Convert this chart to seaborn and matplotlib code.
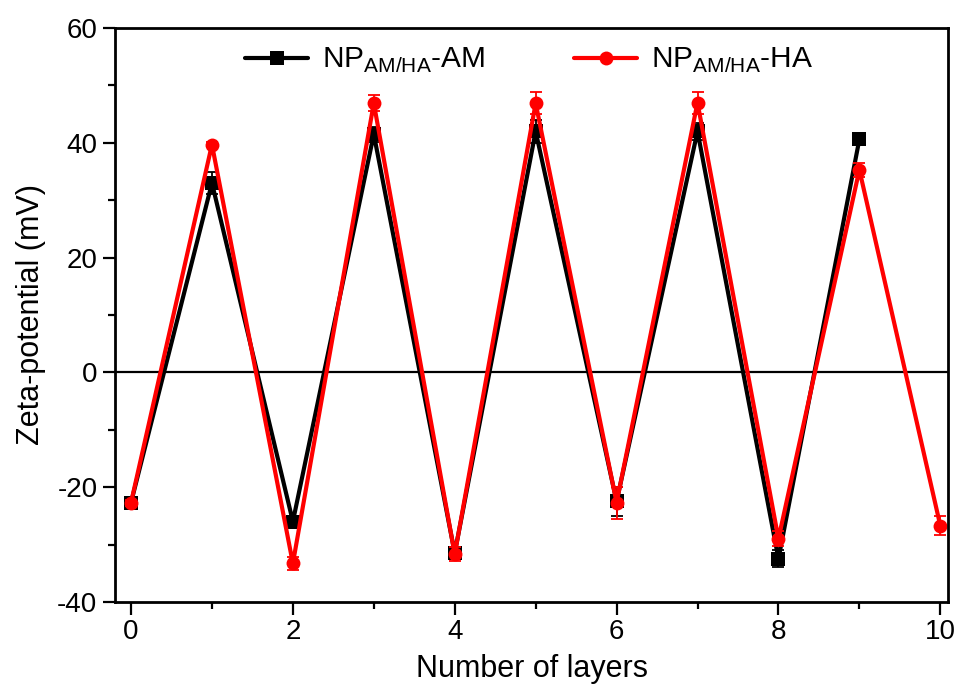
import matplotlib
matplotlib.use("Agg")
import matplotlib.pyplot as plt
from matplotlib.ticker import MultipleLocator
import pandas as pd
import seaborn as sns

sns.set_style("ticks")
plt.rcParams['font.family'] = ['Liberation Sans', 'DejaVu Sans']
plt.rcParams['axes.unicode_minus'] = False
plt.rcParams['text.color'] = 'black'
plt.rcParams['axes.labelcolor'] = 'black'
plt.rcParams['xtick.color'] = 'black'
plt.rcParams['ytick.color'] = 'black'
plt.rcParams['axes.edgecolor'] = 'black'

# data
layers_am = [0, 1, 2, 3, 4, 5, 6, 7, 8, 9]
zeta_am = [-22.7, 33.0, -26.0, 41.5, -31.5, 42.0, -22.5, 42.0, -32.5, 40.6]
err_am = [0.7, 2.0, 0.8, 1.3, 1.0, 2.0, 2.5, 1.5, 1.5, 0.5]

layers_ha = [0, 1, 2, 3, 4, 5, 6, 7, 8, 9, 10]
zeta_ha = [-22.7, 39.7, -33.3, 46.9, -31.7, 46.9, -22.7, 47.0, -29.0, 35.3, -26.7]
err_ha = [0.5, 0.5, 1.2, 1.4, 1.2, 1.9, 2.8, 1.9, 1.3, 1.2, 1.6]

lab_am = r'NP$_{\mathregular{AM/HA}}$-AM'
lab_ha = r'NP$_{\mathregular{AM/HA}}$-HA'

df = pd.concat([
    pd.DataFrame({'layers': layers_am, 'zeta': zeta_am, 'series': lab_am}),
    pd.DataFrame({'layers': layers_ha, 'zeta': zeta_ha, 'series': lab_ha}),
])

fig = plt.figure(figsize=(9.57, 6.84), dpi=100)
ax = fig.add_axes([0.120, 0.120, 0.871, 0.839])

ax.axhline(0, color='black', lw=1.6, zorder=1)

ax.errorbar(layers_am, zeta_am, yerr=err_am, fmt='none', ecolor='black',
            elinewidth=1.3, capsize=4.5, capthick=1.3, zorder=2)
ax.errorbar(layers_ha, zeta_ha, yerr=err_ha, fmt='none', ecolor='red',
            elinewidth=1.3, capsize=4.5, capthick=1.3, zorder=4)

sns.lineplot(data=df, x='layers', y='zeta', hue='series', style='series',
             palette={lab_am: 'black', lab_ha: 'red'},
             markers={lab_am: 's', lab_ha: 'o'}, dashes=False,
             markersize=10, linewidth=3, markeredgewidth=0, ax=ax)
# red line on top of black
ax.lines[-2].set_zorder(3)
ax.lines[-1].set_zorder(5)

ax.set_xlim(-0.2, 10.1)
ax.set_ylim(-40, 60)
ax.xaxis.set_major_locator(MultipleLocator(2))
ax.xaxis.set_minor_locator(MultipleLocator(1))
ax.yaxis.set_major_locator(MultipleLocator(20))
ax.yaxis.set_minor_locator(MultipleLocator(10))
ax.tick_params(which='major', direction='out', length=9, width=1.6, labelsize=20)
ax.tick_params(which='minor', direction='out', length=5, width=1.6)
for s in ax.spines.values():
    s.set_linewidth(2)
    s.set_visible(True)

ax.set_xlabel('Number of layers', fontsize=22, labelpad=6)
ax.set_ylabel('Zeta-potential (mV)', fontsize=22, labelpad=8)

ax.legend(ncol=2, loc='upper center', bbox_to_anchor=(0.497, 1.015), frameon=False,
          fontsize=21.5, handlelength=2.1, columnspacing=3.0, handletextpad=0.45)

fig.savefig('out.png', dpi=100)
